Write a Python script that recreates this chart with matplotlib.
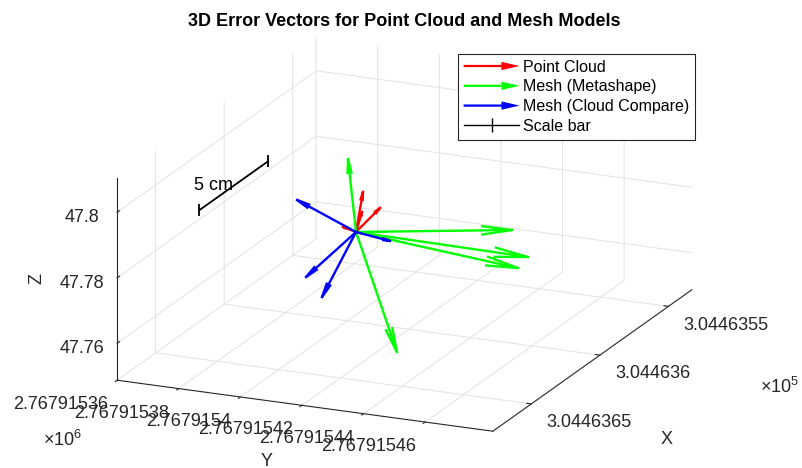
import matplotlib
matplotlib.use('Agg')
import numpy as np
import matplotlib.pyplot as plt
import matplotlib.patches as mpatches
from matplotlib.lines import Line2D
from matplotlib.legend_handler import HandlerPatch

plt.rcParams['font.family'] = ['Liberation Sans', 'DejaVu Sans']
plt.rcParams['mathtext.fontset'] = 'custom'
plt.rcParams['mathtext.rm'] = 'Liberation Sans'
plt.rcParams['mathtext.default'] = 'regular'
plt.rcParams['grid.color'] = '#e2e2e2'
plt.rcParams['grid.linewidth'] = 0.7

AXCOL = '#262626'

# axis limits (UTM metres)
x_lim = (304463.533, 304463.678)
y_lim = (2767915.36, 2767915.482)
z_lim = (47.7487, 47.8104)

x_ticks = [304463.55, 304463.60, 304463.65]
x_ticklabels = ['3.0446355', '3.044636', '3.0446365']
y_ticks = [2767915.36, 2767915.38, 2767915.40, 2767915.42, 2767915.44, 2767915.46]
y_ticklabels = ['2.76791536', '2.76791538', '2.7679154', '2.76791542', '2.76791544', '2.76791546']
z_ticks = [47.76, 47.78, 47.80]
z_ticklabels = ['47.76', '47.78', '47.8']

# common origin of the error vectors
origin = (304463.600, 2767915.4028, 47.7762)

# error vectors (dx, dy, dz) in metres
pc_u = [0.0, 0.0, 0.0, 0.0]
pc_v = [0.00227, 0.00195, 0.00779, -0.00422]
pc_w = [0.01251, 0.00636, 0.00833, 0.00099]

ms_u = [0.0, 0.0, 0.0, 0.0, 0.0]
ms_v = [-0.0026, 0.05062, 0.05581, 0.05256, 0.0133]
ms_w = [0.02196, 0.00707, -0.00051, -0.00429, -0.03495]

cc_u = [0.0, 0.0, 0.0, 0.0]
cc_v = [-0.01914, 0.01103, -0.01622, -0.01103]
cc_w = [0.00733, -0.00134, -0.01582, -0.02126]

# 5 cm scale bar
scale_x = [304463.618, 304463.568]
scale_y = [2767915.36, 2767915.36]
scale_z = [47.7828, 47.7828]
scale_text = (304463.608, 2767915.36, 47.7873)

ELEV, AZIM = 18.1, 23.6
BOX = (497, 410, 212.5)

fig = plt.figure(figsize=(8.02, 4.68), dpi=100)
L = 658.6
ax = fig.add_axes([66.3 / 802, -104.2 / 468, L / 802, L / 468],
                  projection='3d', proj_type='ortho')
ax.view_init(elev=ELEV, azim=AZIM)
ax.set_box_aspect(BOX)

# scale factors data -> box units, and viewing direction (for arrow heads)
k = np.array([BOX[0] / (x_lim[1] - x_lim[0]),
              BOX[1] / (y_lim[1] - y_lim[0]),
              BOX[2] / (z_lim[1] - z_lim[0])])
e, a = np.radians(ELEV), np.radians(AZIM)
view_dir = np.array([np.cos(e) * np.cos(a), np.cos(e) * np.sin(a), np.sin(e)])

def draw_vectors(u, v, w, color, head=0.19, angle=8):
    o = np.array(origin)
    for vec in zip(u, v, w):
        vec = np.array(vec)
        tip = o + vec
        ax.plot([o[0], tip[0]], [o[1], tip[1]], [o[2], tip[2]],
                color=color, linewidth=1.7)
        # open V head, lying in the screen plane
        vb = vec * k
        vs = vb - vb.dot(view_dir) * view_dir
        n = np.cross(vb, view_dir)
        n = n / np.linalg.norm(n)
        half = np.tan(np.radians(angle)) * head * np.linalg.norm(vs)
        base = vb * (1 - head)
        b1 = o + (base + half * n) / k
        b2 = o + (base - half * n) / k
        ax.plot([b1[0], tip[0], b2[0]], [b1[1], tip[1], b2[1]],
                [b1[2], tip[2], b2[2]], color=color, linewidth=1.7)

draw_vectors(pc_u, pc_v, pc_w, 'red')
draw_vectors(ms_u, ms_v, ms_w, '#00ff00')
draw_vectors(cc_u, cc_v, cc_w, 'blue')

ax.plot(scale_x, scale_y, scale_z, color='k', linewidth=1.3, marker='|',
        markersize=9, markeredgewidth=1.3)
ax.text(*scale_text, '5 cm', ha='center', va='center', fontsize=13)

ax.set_xlim(x_lim)
ax.set_ylim(y_lim)
ax.set_zlim(z_lim)
ax.set_xticks(x_ticks)
ax.set_xticklabels(x_ticklabels, ha='left', va='top')
ax.set_yticks(y_ticks)
ax.set_yticklabels(y_ticklabels, ha='right', va='top')
ax.set_zticks(z_ticks)
ax.set_zticklabels(z_ticklabels, ha='center', va='center')
ax.tick_params(labelsize=13, colors=AXCOL)
ax.zaxis.set_tick_params(pad=7)
ax.xaxis.set_tick_params(pad=2)

for axis in (ax.xaxis, ax.yaxis, ax.zaxis):
    axis.pane.set_facecolor((1, 1, 1, 0))
    axis.pane.set_edgecolor('none')
    axis.line.set_color(AXCOL)
    axis.line.set_linewidth(0.8)
    axis._axinfo['tick']['inward_factor'] = 0.0
    axis._axinfo['tick']['outward_factor'] = 0.15
    axis._axinfo['tick']['color'] = AXCOL
ax.yaxis._axinfo['tick']['inward_factor'] = 0.12
ax.yaxis._axinfo['tick']['outward_factor'] = 0.0

# titles and axis labels
fig.text(404 / 802, 1 - 21.7 / 468, '3D Error Vectors for Point Cloud and Mesh Models',
         ha='center', va='center', fontsize=13, fontweight='bold')
fig.text(667 / 802, 1 - 440 / 468, 'X', ha='center', va='center', fontsize=13, color=AXCOL)
fig.text(267 / 802, 1 - 461 / 468, 'Y', ha='center', va='center', fontsize=13, color=AXCOL)
fig.text(37 / 802, 1 - 278 / 468, 'Z', ha='center', va='center', fontsize=13,
         rotation=90, color=AXCOL)
fig.text(63 / 802, 1 - 440 / 468, r'$\times10^{6}$', ha='center', va='center',
         fontsize=13, color=AXCOL)
fig.text(780 / 802, 1 - 387 / 468, r'$\times10^{5}$', ha='center', va='center',
         fontsize=13, color=AXCOL)

# legend
def make_arrow(legend, orig_handle, xdescent, ydescent, width, height, fontsize):
    return mpatches.FancyArrow(-xdescent, height / 2 - ydescent, width, 0,
                               width=1.6, head_width=6, head_length=13,
                               length_includes_head=True)

handles = [mpatches.FancyArrow(0, 0, 1, 0, color='red', linewidth=0),
           mpatches.FancyArrow(0, 0, 1, 0, color='#00ff00', linewidth=0),
           mpatches.FancyArrow(0, 0, 1, 0, color='blue', linewidth=0),
           Line2D([], [], color='k', linewidth=1, marker='|', markersize=10,
                  markeredgewidth=1)]
labels = ['Point Cloud', 'Mesh (Metashape)', 'Mesh (Cloud Compare)', 'Scale bar']
leg = fig.legend(handles, labels, loc='upper left',
                 bbox_to_anchor=(458 / 802, 1 - 54 / 468),
                 handler_map={mpatches.FancyArrow: HandlerPatch(patch_func=make_arrow)},
                 fontsize=11.5, handlelength=3.5, handletextpad=0.25,
                 labelspacing=0.3, borderpad=0.35, borderaxespad=0,
                 fancybox=False, framealpha=1, numpoints=1)
leg.get_frame().set_edgecolor(AXCOL)
leg.get_frame().set_linewidth(0.8)

fig.savefig('out.png', dpi=100)
